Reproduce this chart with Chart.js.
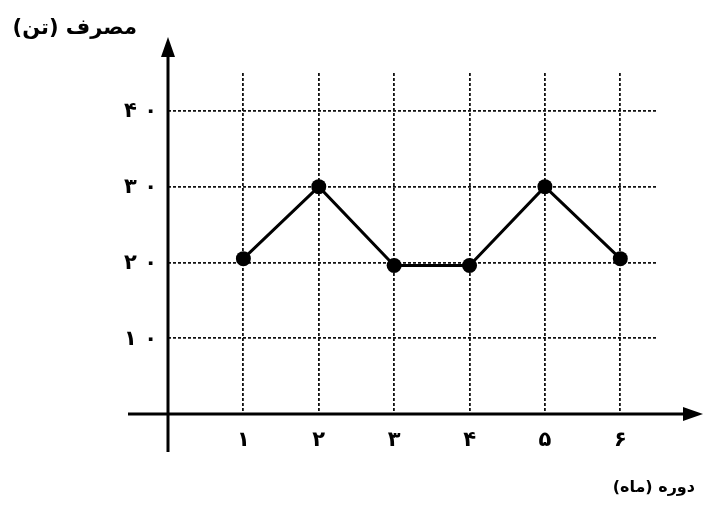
<!DOCTYPE html>
<html>
<head>
<meta charset="utf-8">
<script src="https://cdn.jsdelivr.net/npm/chart.js@4.4.1/dist/chart.umd.min.js"></script>
<style>
  body { margin: 0; background: #fff; }
  canvas { display: block; }
</style>
</head>
<body>
<canvas id="chart" width="707" height="505"></canvas>
<script>
const months = [1, 2, 3, 4, 5, 6];
const consumption = [20.5, 30, 19.6, 19.6, 30, 20.5];
const yTicks = [10, 20, 30, 40];
const yTitle = 'مصرف (تن)';
const xTitle = 'دوره (ماه)';

const FONT = '"DejaVu Sans", sans-serif';
const faDigits = n => String(n).replace(/\d/g, d => '۰۱۲۳۴۵۶۷۸۹'[d]);

function arrowHead(ctx, x, y, dir) {
  ctx.beginPath();
  if (dir === 'up') {
    ctx.moveTo(x, y);
    ctx.lineTo(x - 7, y + 20);
    ctx.lineTo(x + 7, y + 20);
  } else {
    ctx.moveTo(x, y);
    ctx.lineTo(x - 20, y - 7);
    ctx.lineTo(x - 20, y + 7);
  }
  ctx.closePath();
  ctx.fill();
}

const axesPlugin = {
  id: 'axesPlugin',
  afterDraw(chart) {
    const ctx = chart.ctx;
    const xs = chart.scales.x, ys = chart.scales.y;
    const x0 = xs.getPixelForValue(0);
    const y0 = ys.getPixelForValue(0);
    ctx.save();
    ctx.strokeStyle = '#000';
    ctx.fillStyle = '#000';
    ctx.lineWidth = 3;
    // y axis
    ctx.beginPath();
    ctx.moveTo(x0, 452);
    ctx.lineTo(x0, 50);
    ctx.stroke();
    arrowHead(ctx, x0, 37, 'up');
    // x axis
    ctx.beginPath();
    ctx.moveTo(128, y0);
    ctx.lineTo(690, y0);
    ctx.stroke();
    arrowHead(ctx, 703, y0, 'right');

    // tick labels
    ctx.font = 'bold 21px ' + FONT;
    ctx.textBaseline = 'middle';
    ctx.textAlign = 'center';
    months.forEach(m => {
      ctx.fillText(faDigits(m), xs.getPixelForValue(m), 441);
    });
    ctx.textAlign = 'left';
    yTicks.forEach(v => {
      ctx.fillText(faDigits(v).split('').join(' '), 124, ys.getPixelForValue(v) + 1);
    });

    // titles
    ctx.direction = 'rtl';
    ctx.textAlign = 'right';
    ctx.font = 'bold 21px ' + FONT;
    ctx.fillText(yTitle, 137, 29);
    ctx.font = 'bold 16px ' + FONT;
    ctx.fillText(xTitle, 695, 488);
    ctx.restore();
  }
};

new Chart(document.getElementById('chart'), {
  type: 'line',
  data: {
    datasets: [{
      data: months.map((m, i) => ({ x: m, y: consumption[i] })),
      borderColor: '#000',
      backgroundColor: '#000',
      borderWidth: 3,
      pointRadius: 7.5,
      pointBackgroundColor: '#000',
      pointBorderWidth: 0,
      tension: 0,
      fill: false
    }]
  },
  options: {
    responsive: false,
    animation: false,
    devicePixelRatio: 1,
    layout: { padding: { left: 168, right: 49, top: 73, bottom: 91 } },
    plugins: { legend: { display: false }, tooltip: { enabled: false } },
    scales: {
      x: {
        type: 'linear',
        min: 0,
        max: 6.5,
        afterBuildTicks: s => { s.ticks = months.map(v => ({ value: v })); },
        ticks: { display: false },
        grid: { color: '#111', lineWidth: 1.8, drawTicks: false },
        border: { display: false, dash: [3, 2] }
      },
      y: {
        type: 'linear',
        min: 0,
        max: 45,
        afterBuildTicks: s => { s.ticks = yTicks.map(v => ({ value: v })); },
        ticks: { display: false },
        grid: { color: '#111', lineWidth: 1.8, drawTicks: false },
        border: { display: false, dash: [3, 2] }
      }
    }
  },
  plugins: [axesPlugin]
});
</script>
</body>
</html>
